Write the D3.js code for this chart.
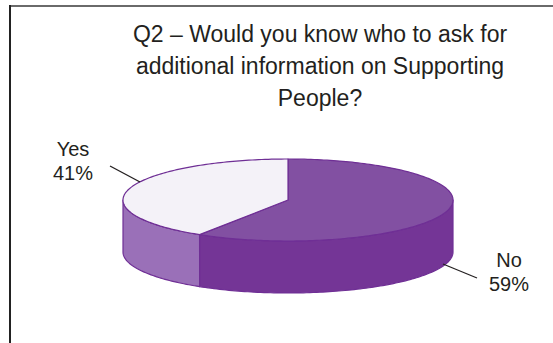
<!DOCTYPE html>
<html>
<head>
<meta charset="utf-8">
<script src="https://cdn.jsdelivr.net/npm/d3@7"></script>
<style>
  html, body { margin: 0; padding: 0; background: #fff; }
  svg { display: block; }
  text { font-family: "Liberation Sans", Arial, sans-serif; fill: #231f20; }
</style>
</head>
<body>
<svg id="chart" width="553" height="343"></svg>
<script>
// Survey answers
const categories = ["No", "Yes"];
const values = [59, 41];
const labels = ["59%", "41%"];
const titleLines = [
  "Q2 \u2013 Would you know who to ask for",
  "additional information on Supporting",
  "People?"
];

const topColors = { No: "#8250a2", Yes: "#f4f2f8" };
const sideColors = { No: "#743596", Yes: "#9a70b8" };
const edgeColor = "#6f2f95";

const svg = d3.select("#chart");

// Frame (top and left rules)
svg.append("line").attr("x1", 10).attr("y1", 6).attr("x2", 553).attr("y2", 6)
  .attr("stroke", "#6a6a6a").attr("stroke-width", 2);
svg.append("line").attr("x1", 10).attr("y1", 5).attr("x2", 10).attr("y2", 343)
  .attr("stroke", "#222").attr("stroke-width", 2);

// Title
const title = svg.append("text").attr("text-anchor", "middle").style("font-size", "23px");
titleLines.forEach((t, i) => {
  title.append("tspan").attr("x", 320).attr("y", 42 + i * 32).text(t);
});

// 3D pie geometry
const cx = 288, cy = 200, rx = 165, ry = 41, depth = 52;
const pie = d3.pie().sort(null).value(d => d.value);
const arcs = pie(categories.map((c, i) => ({ name: c, value: values[i] })));

const pt = (a, dy = 0) => [cx + rx * Math.sin(a), cy - ry * Math.cos(a) + dy];
const line = d3.line();

function arcPoints(a0, a1, dy) {
  const n = Math.max(2, Math.ceil(Math.abs(a1 - a0) / 0.02));
  return d3.range(n + 1).map(k => pt(a0 + (a1 - a0) * k / n, dy));
}

const g = svg.append("g");

// Side walls (front half only: angles between 90deg and 270deg)
arcs.forEach(d => {
  const a0 = Math.max(d.startAngle, Math.PI / 2);
  const a1 = Math.min(d.endAngle, 3 * Math.PI / 2);
  if (a1 <= a0) return;
  const pts = arcPoints(a0, a1, 0).concat(arcPoints(a1, a0, depth));
  g.append("path")
    .attr("d", line(pts) + "Z")
    .attr("fill", sideColors[d.data.name])
    .attr("stroke", edgeColor).attr("stroke-width", 1.2)
    .attr("stroke-linejoin", "round");
});

// Top faces
arcs.forEach(d => {
  const pts = [[cx, cy]].concat(arcPoints(d.startAngle, d.endAngle, 0));
  g.append("path")
    .attr("d", line(pts) + "Z")
    .attr("fill", topColors[d.data.name])
    .attr("stroke", edgeColor).attr("stroke-width", 1.2)
    .attr("stroke-linejoin", "round");
});

// Labels with leader lines
const labelPos = {
  No: { x: 509, y: 267, l: [[443, 264], [477, 278]] },
  Yes: { x: 73, y: 156, l: [[110, 166], [140, 182]] }
};
categories.forEach((c, i) => {
  const p = labelPos[c];
  svg.append("path").attr("d", line(p.l)).attr("stroke", "#231f20").attr("stroke-width", 1.2).attr("fill", "none");
  const t = svg.append("text").attr("text-anchor", "middle").style("font-size", "20px");
  t.append("tspan").attr("x", p.x).attr("y", p.y).text(c);
  t.append("tspan").attr("x", p.x).attr("y", p.y + 24).text(labels[i]);
});
</script>
</body>
</html>
